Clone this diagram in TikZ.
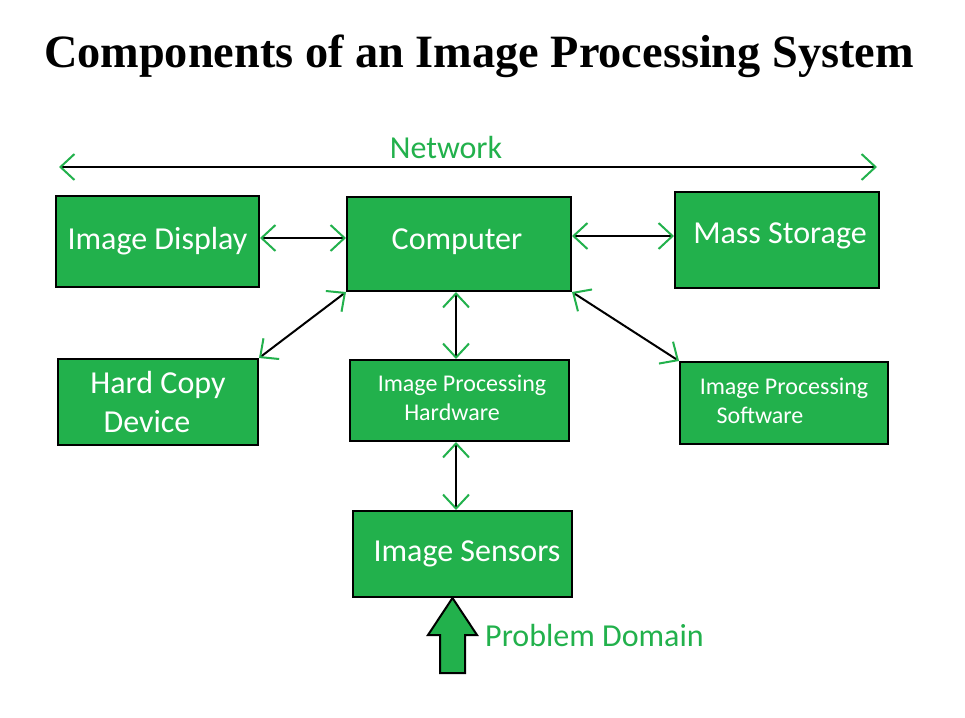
\documentclass[tikz,border=0pt]{standalone}
\usepackage{fontspec}
\setmainfont{Carlito}
\newfontfamily\titlefont{Liberation Serif}
\usetikzlibrary{arrows.meta,calc}
\definecolor{igreen}{HTML}{22B14C}
\begin{document}
\begin{tikzpicture}[x=1pt,y=-1pt,
  box/.style={draw=black,line width=2pt,fill=igreen,text=white,inner sep=0pt,align=center,
    font=\fontsize{32}{39}\selectfont},
  smallbox/.style={box,font=\fontsize{24}{29}\selectfont},
  conn/.style={draw=black,line width=2pt,
    {Straight Barb[color=igreen,length=14pt,width=26pt,line width=2pt]}-{Straight Barb[color=igreen,length=14pt,width=26pt,line width=2pt]}},
  gtext/.style={text=igreen,font=\fontsize{32}{39}\selectfont,inner sep=0pt}]
\path[use as bounding box,fill=white] (0,0) rectangle (965,717);
\node[font=\titlefont\bfseries\fontsize{46.3}{54}\selectfont,inner sep=0pt] (title) at (479,56) {Components of an Image Processing System};
% network
\coordinate (netL) at (59,167);
\coordinate (netR) at (877,167);
\draw[conn] (netL) -- (netR);
\node[gtext] (netlbl) at (446,148) {Network};
% boxes
\node[box,minimum width=203pt,minimum height=91pt] (disp) at (157.5,241.5) {Image Display};
\node[box,minimum width=224pt,minimum height=94pt] (comp) at (459,244) {\raisebox{10pt}{\hspace*{-4pt}Computer}};
\node[box,minimum width=204pt,minimum height=96pt] (mass) at (777,240) {\raisebox{14pt}{\hspace*{6pt}Mass Storage}};
\node[box,minimum width=200pt,minimum height=86pt] (hard) at (158,402) {Hard Copy\\Device\hspace*{22pt}};
\node[smallbox,minimum width=219pt,minimum height=81pt] (hw) at (459.5,400.5) {\raisebox{3pt}{\begin{tabular}{@{}c@{}}\hspace*{5pt}Image Processing\\Hardware\hspace*{15pt}\end{tabular}}};
\node[smallbox,minimum width=208pt,minimum height=82pt] (sw) at (784,403) {\raisebox{8pt}{\begin{tabular}{@{}c@{}}Image Processing\\Software\hspace*{48pt}\end{tabular}}};
\node[box,minimum width=219pt,minimum height=86pt] (sens) at (462.5,554) {\raisebox{2pt}{\hspace*{9pt}Image Sensors}};
% connectors
\draw[conn] (disp.east |- 0,238) -- (comp.west |- 0,238);
\draw[conn] (comp.east |- 0,236) -- (mass.west |- 0,236);
\draw[conn] (comp.south west) -- (hard.north east);
\draw[conn] (comp.south -| 456,0) -- (hw.north -| 456,0);
\draw[conn] (comp.south east) -- (sw.north west);
\draw[conn] (hw.south -| 456,0) -- (sens.north -| 456,0);
% problem domain arrow
\draw[line width=2pt,fill=igreen,line join=miter] (440,673) -- (465,673) -- (465,635) -- (477,635) -- (452.5,598) -- (428,635) -- (440,635) -- cycle;
\node[gtext,anchor=west] (prob) at (485,635) {Problem Domain};
\end{tikzpicture}
\end{document}
